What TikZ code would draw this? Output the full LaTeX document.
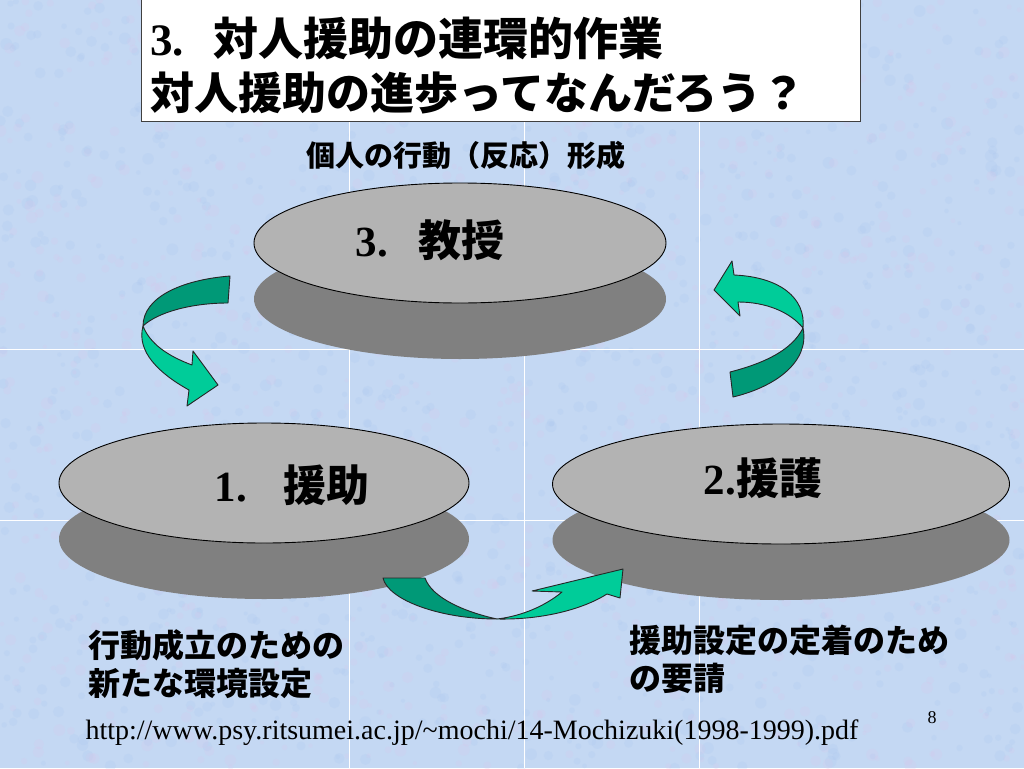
\documentclass[tikz,border=0pt]{standalone}
\usepackage{fontspec}
\setmainfont{Liberation Serif}
\newfontfamily\jpfont{Noto Sans CJK JP}
\usetikzlibrary{shapes.geometric}
\definecolor{skyback}{HTML}{C4D8F3}
\definecolor{skypink}{HTML}{D9C6EA}
\definecolor{skydeep}{HTML}{A8C4EE}
\definecolor{disklight}{HTML}{B3B3B3}
\definecolor{diskdark}{HTML}{808080}
\definecolor{greenlight}{HTML}{00CC99}
\definecolor{greendark}{HTML}{009977}
\newcommand{\numlabel}[1]{{\rmfamily\bfseries #1}}
\tikzset{
  disk/.style={ellipse, draw=black, line width=0.9pt, fill=disklight, inner sep=0pt},
  diskshade/.style={ellipse, fill=diskdark, inner sep=0pt},
  bigjp/.style={font=\jpfont\bfseries\fontsize{43}{50}\selectfont, inner sep=0pt},
  notejp/.style={font=\jpfont\bfseries\fontsize{32}{38}\selectfont, align=left, inner sep=0pt},
  ribbon/.style={draw=black!85, line width=0.9pt, line join=round},
}
\begin{document}
\begin{tikzpicture}[x=1pt,y=-1pt]
\useasboundingbox (0,0) rectangle (1024,768);
\fill[skyback] (0,0) rectangle (1024,768);
\pgfmathsetseed{42}
\foreach \i in {1,...,2400} {
  \pgfmathsetmacro{\px}{rnd*1024}
  \pgfmathsetmacro{\py}{rnd*768}
  \pgfmathsetmacro{\pr}{2+rnd*4}
  \ifodd\i \fill[skypink, opacity=0.22] (\px,\py) circle (\pr);
  \else \fill[skydeep, opacity=0.18] (\px,\py) circle (\pr); \fi
}
\foreach \x in {349,524,699} \draw[white, line width=1pt] (\x,0) -- (\x,768);
\foreach \y in {349,520} \draw[white, line width=1pt] (0,\y) -- (1024,\y);

\node[draw=black!75, line width=1.2pt, fill=white, anchor=north west, minimum width=719pt, minimum height=122pt, inner sep=0pt] (titlebox) at (141,-1) {};
\node[bigjp, font=\jpfont\bfseries\fontsize{45}{50}\selectfont, anchor=west] (title1) at (150,38) {\numlabel{3.}\hspace{30pt}対人援助の連環的作業};
\node[bigjp, font=\jpfont\bfseries\fontsize{44}{50}\selectfont, anchor=west] (title2) at (150,93) {対人援助の進歩ってなんだろう？};
\node[font=\jpfont\bfseries\fontsize{29}{34}\selectfont, inner sep=0pt] (shaping) at (466,155) {個人の行動（反応）形成};

\foreach \nm/\cx/\cy/\w in {teach/460/243/412, aid/264/483/410, support/781/484/457} {
  \node[diskshade, minimum width=\w pt, minimum height=120pt] (\nm shade) at (\cx,\cy+56) {};
  \node[disk, minimum width=\w pt, minimum height=120pt] (\nm) at (\cx,\cy) {};
}
\node[bigjp] (teachlabel) at (430,240) {\numlabel{3.}\hspace{30pt}教授};
\node[bigjp] (aidlabel) at (292,485) {\numlabel{1.}\hspace{36pt}援助};
\node[bigjp] (supportlabel) at (763,478) {\numlabel{2.}援護};

\node[notejp, anchor=west] (envnote) at (88,664) {行動成立のための\\新たな環境設定};
\node[notejp, anchor=west] (keepnote) at (629,659) {援助設定の定着のため\\の要請};
\node[font=\fontsize{28}{32}\selectfont, inner sep=0pt] (source) at (472,733) {http://www.psy.ritsumei.ac.jp/\textasciitilde mochi/14-Mochizuki(1998-1999).pdf};
\node[font=\fontsize{18}{20}\selectfont, inner sep=0pt] (pagenum) at (932,718) {8};

\draw[ribbon, fill=greendark] (230,276) .. controls (180,280) and (143,298) .. (143,326) .. controls (158,312) and (192,303) .. (228,303) -- cycle;
\draw[ribbon, fill=greenlight] (143,326) .. controls (136,352) and (160,374) .. (189,390) -- (187,406) -- (218,385) -- (193,351) -- (192,365) .. controls (168,356) and (150,344) .. (143,326) -- cycle;
\draw[ribbon, fill=greendark] (803,328) .. controls (810,362) and (775,387) .. (733,397) -- (730,372) .. controls (765,363) and (792,350) .. (803,328) -- cycle;
\draw[ribbon, fill=greenlight] (803,328) .. controls (806,298) and (780,277) .. (734,275) -- (732,261) -- (714,290) -- (740,316) -- (738,302) .. controls (766,302) and (790,312) .. (803,328) -- cycle;
\draw[ribbon, fill=greendark] (383,578) .. controls (388,600) and (440,619) .. (497,619) .. controls (465,612) and (432,598) .. (425,578) -- cycle;
\draw[ribbon, fill=greenlight] (497,619) .. controls (545,620) and (585,608) .. (607,594) -- (620,598) -- (623,569) -- (532,591) -- (562,592) .. controls (545,606) and (522,616) .. (497,619) -- cycle;
\end{tikzpicture}
\end{document}
